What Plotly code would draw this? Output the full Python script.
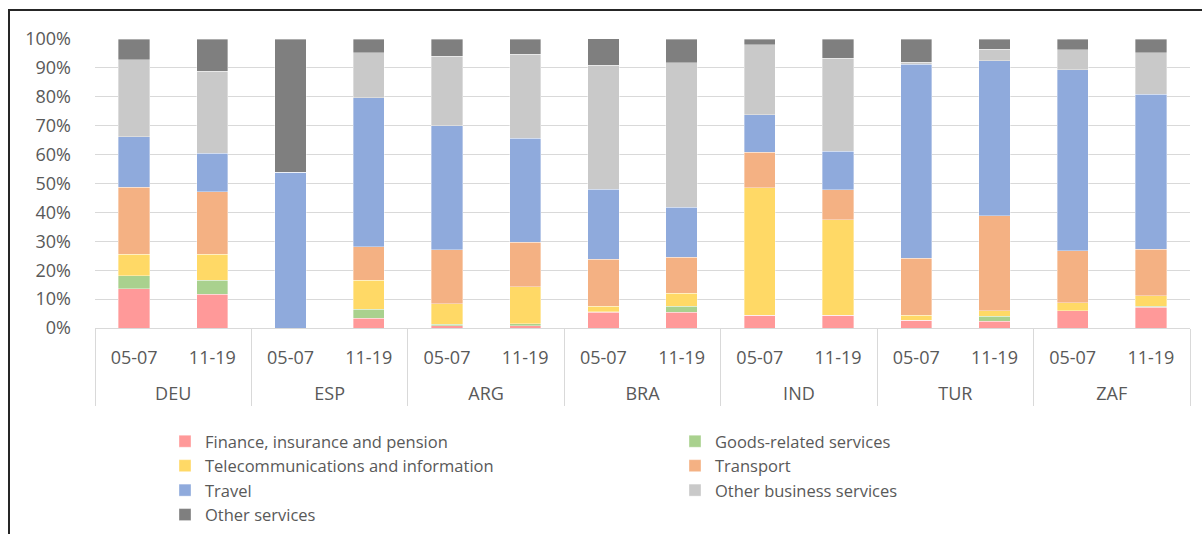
import plotly.graph_objects as go

countries = ["DEU", "DEU", "ESP", "ESP", "ARG", "ARG", "BRA", "BRA", "IND", "IND", "TUR", "TUR", "ZAF", "ZAF"]
periods = ["05-07", "11-19"] * 7

series_names = [
    "Finance, insurance and pension",
    "Goods-related services",
    "Telecommunications and information",
    "Transport",
    "Travel",
    "Other business services",
    "Other services",
]

finance = [13.5, 11.7, 0.0, 3.3, 0.7, 0.7, 5.5, 5.4, 4.4, 4.4, 2.7, 2.3, 5.9, 7.2]
goods = [4.6, 4.9, 0.0, 3.2, 0.6, 0.7, 0.1, 2.1, 0.0, 0.0, 0.0, 1.7, 0.0, 0.3]
telecom = [7.5, 9.0, 0.0, 10.0, 7.1, 12.8, 2.0, 4.6, 44.2, 33.0, 1.7, 1.9, 2.9, 3.7]
transport = [23.1, 21.6, 0.0, 11.7, 18.7, 15.5, 16.2, 12.3, 12.3, 10.5, 19.8, 33.0, 17.9, 16.1]
travel = [17.5, 13.3, 53.9, 51.5, 42.8, 36.0, 24.2, 17.3, 12.9, 13.3, 67.1, 53.5, 62.6, 53.6]
other_business = [26.6, 28.3, 0.0, 15.6, 24.2, 29.1, 43.0, 50.1, 24.2, 32.2, 0.7, 4.1, 6.9, 14.3]
other_services = [7.2, 11.2, 46.1, 4.7, 5.9, 5.2, 9.1, 8.2, 2.0, 6.6, 8.0, 3.5, 3.8, 4.8]

colors = ["#FF9999", "#A9D18E", "#FFD966", "#F4B183", "#8FAADC", "#C9C9C9", "#7F7F7F"]
all_series = [finance, goods, telecom, transport, travel, other_business, other_services]

FONT = "'Open Sans', Lato, 'Liberation Sans', sans-serif"

# outer-level labels get a leading blank line so they sit lower, as in the reference
country_labels = ["<br>" + c for c in countries]

fig = go.Figure()
for name, vals, col in zip(series_names, all_series, colors):
    fig.add_trace(go.Bar(
        x=[country_labels, periods],
        y=[v / 100 for v in vals],
        name=name,
        marker=dict(color=col, line=dict(color="rgba(255,255,255,0.6)", width=0.6)),
    ))

L, R, T, B = 95, 12, 39, 206
W, H = 1202, 534
pw, ph = W - L - R, H - T - B

fig.update_layout(
    barmode="stack",
    bargap=0.6,
    width=W, height=H,
    margin=dict(l=L, r=R, t=T, b=B, autoexpand=False),
    paper_bgcolor="white",
    plot_bgcolor="white",
    font=dict(family=FONT, size=16, color="#595959"),
    showlegend=True,
    legend=dict(
        orientation="h",
        x=(165 - L) / pw, xanchor="left",
        y=-(424 - (T + ph)) / ph, yanchor="top",
        entrywidth=465, entrywidthmode="pixels",
        traceorder="normal",
        font=dict(family=FONT, size=16.5, color="#595959"),
        itemwidth=30,
        tracegroupgap=0,
    ),
    xaxis=dict(
        type="multicategory",
        showline=True, linecolor="#D9D9D9", linewidth=1,
        showdividers=True, dividercolor="#D9D9D9", dividerwidth=1,
        tickfont=dict(family=FONT, size=18, color="#595959"),
        ticklabelstandoff=13,
        showgrid=False,
    ),
    yaxis=dict(
        range=[0, 1],
        dtick=0.1,
        tickformat=".0%",
        showgrid=True, gridcolor="#D9D9D9", gridwidth=1,
        zeroline=False,
        showline=False,
        tickfont=dict(family=FONT, size=18, color="#595959"),
        ticklabelstandoff=23,
    ),
)

# outer chart frame (partially visible, as in the reference)
fig.add_shape(
    type="rect", xref="paper", yref="paper",
    x0=(9 - L) / pw, x1=(W + 20 - L) / pw,
    y0=-(H + 20 - (T + ph)) / ph, y1=1 + (T - 10) / ph,
    line=dict(color="#262626", width=2),
    fillcolor="rgba(0,0,0,0)",
    layer="above",
)

fig.write_html("out.html")
